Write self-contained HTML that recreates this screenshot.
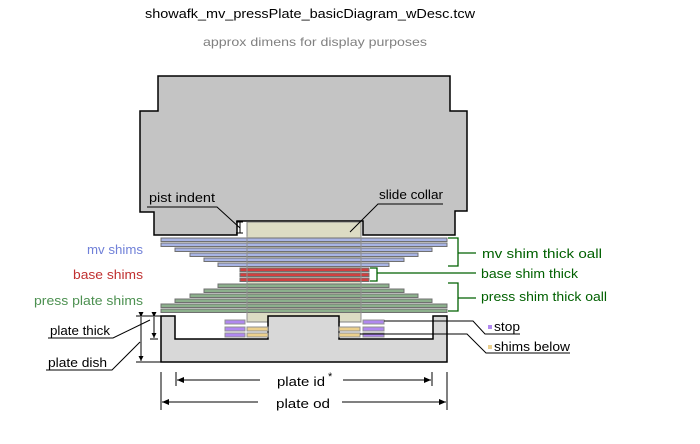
<!DOCTYPE html>
<html><head><meta charset="utf-8"><style>
html,body{margin:0;padding:0;background:#fff;}
svg{display:block;font-family:"Liberation Sans","DejaVu Sans",sans-serif;}
</style></head><body>
<svg width="700" height="444" viewBox="0 0 700 444" xmlns="http://www.w3.org/2000/svg">
<defs>
<marker id="ar" markerWidth="8" markerHeight="6" refX="7" refY="3" orient="auto" markerUnits="userSpaceOnUse"><path d="M0,0 L7,3 L0,6z" fill="#000"/></marker>
<marker id="as" markerWidth="6" markerHeight="5" refX="5" refY="2.5" orient="auto" markerUnits="userSpaceOnUse"><path d="M0,0 L5,2.5 L0,5z" fill="#000"/></marker>
</defs>
<text x="145" y="18" font-size="12.5" fill="#000" textLength="330" lengthAdjust="spacingAndGlyphs">showafk_mv_pressPlate_basicDiagram_wDesc.tcw</text>
<text x="203" y="46" font-size="12" fill="#808080" textLength="224" lengthAdjust="spacingAndGlyphs">approx dimens for display purposes</text>

<path d="M158,76 H450 V111 H467 V211 H455 V235 H363 V221 H237 V235 H154 V212 H140 V111 H158 Z" fill="#c4c4c4" stroke="#000" stroke-width="1.5"/>
<rect x="247" y="222" width="114" height="100" fill="#dcdcc4" stroke="#808080" stroke-width="1"/>

<g fill="#a8b4e4" stroke="#707070" stroke-width="1">
<rect x="161" y="238" width="286" height="3.5"/>
<rect x="161" y="243" width="286" height="3.5"/>
<rect x="175" y="248" width="257" height="3.5"/>
<rect x="190" y="253" width="228" height="3.5"/>
<rect x="204" y="258" width="200" height="3.5"/>
<rect x="218" y="263" width="171" height="3.5"/>
</g>
<g fill="#d04040" stroke="#707070" stroke-width="1">
<rect x="240" y="268" width="129" height="3.5"/>
<rect x="240" y="273" width="129" height="3.5"/>
<rect x="240" y="278" width="129" height="3.5"/>
</g>
<g fill="#8cb08c" stroke="#707070" stroke-width="1">
<rect x="218" y="284" width="171" height="3.5"/>
<rect x="204" y="289" width="200" height="3.5"/>
<rect x="190" y="294" width="228" height="3.5"/>
<rect x="175" y="299" width="257" height="3.5"/>
<rect x="161" y="304" width="286" height="3.5"/>
<rect x="161" y="309" width="286" height="3.5"/>
</g>
<line x1="247" y1="236" x2="247" y2="322" stroke="#909090"/>
<line x1="361" y1="236" x2="361" y2="322" stroke="#909090"/>

<path d="M161,316 H175 V339 H268 V316 H339 V339 H433 V316 H447 V362 H161 Z" fill="#d8d8d8" stroke="#000" stroke-width="1.5"/>

<g stroke="#909090" stroke-width="1">
<rect x="225" y="320" width="20" height="4" fill="#b088f0"/>
<rect x="225" y="327" width="20" height="4" fill="#b088f0"/>
<rect x="225" y="333" width="20" height="4" fill="#b088f0"/>
<rect x="247" y="327" width="21" height="4" fill="#ecd08c"/>
<rect x="247" y="333" width="21" height="4" fill="#ecd08c"/>
<rect x="339" y="327" width="21" height="4" fill="#ecd08c"/>
<rect x="339" y="333" width="21" height="4" fill="#ecd08c"/>
<rect x="363" y="320" width="21" height="4" fill="#b088f0"/>
<rect x="363" y="327" width="21" height="4" fill="#b088f0"/>
<rect x="363" y="333" width="21" height="4" fill="#b088f0"/>
</g>

<text x="87" y="254" font-size="12.5" fill="#7080d8" textLength="56" lengthAdjust="spacingAndGlyphs">mv shims</text>
<text x="73" y="279" font-size="12.5" fill="#c03030" textLength="70" lengthAdjust="spacingAndGlyphs">base shims</text>
<text x="34" y="305" font-size="12.5" fill="#4c9050" textLength="109" lengthAdjust="spacingAndGlyphs">press plate shims</text>

<g stroke="#006000" stroke-width="1.3" fill="none">
<path d="M448,238 H458 V266 H448 M458,253 H476"/>
<path d="M370,268 H377 V281 H370 M377,273 H476"/>
<path d="M448,283 H458 V311 H448 M458,298 H476"/>
</g>
<g font-size="12.5" fill="#006000">
<text x="482" y="258" textLength="120" lengthAdjust="spacingAndGlyphs">mv shim thick oall</text>
<text x="481" y="278" textLength="97" lengthAdjust="spacingAndGlyphs">base shim thick</text>
<text x="481" y="301" textLength="126" lengthAdjust="spacingAndGlyphs">press shim thick oall</text>
</g>

<text x="149" y="202" font-size="12.5" textLength="66" lengthAdjust="spacingAndGlyphs">pist indent</text>
<path d="M147,207 H217 L240,228" stroke="#000" fill="none"/>
<path d="M236,222 H243 M240,222 V233 M236,233 H243" stroke="#000" fill="none"/>
<text x="379" y="199" font-size="12.5" textLength="64" lengthAdjust="spacingAndGlyphs">slide collar</text>
<path d="M443,204 H378 L350,232" stroke="#000" fill="none"/>

<path d="M384,321 H473 L485,334 H520" stroke="#000" fill="none"/>
<path d="M360,334 H467 L486,353 H570" stroke="#000" fill="none"/>
<rect x="488" y="325" width="4" height="4" fill="#b088f0"/>
<text x="494" y="331" font-size="12.5" textLength="26" lengthAdjust="spacingAndGlyphs">stop</text>
<rect x="488" y="345" width="4" height="4" fill="#ecd08c"/>
<text x="494" y="351" font-size="12.5" textLength="76" lengthAdjust="spacingAndGlyphs">shims below</text>

<g stroke="#000" fill="none">
<line x1="136" y1="316" x2="161" y2="316"/>
<line x1="136" y1="362" x2="161" y2="362"/>
<line x1="150" y1="339" x2="158" y2="339"/>
<line x1="141" y1="317" x2="141" y2="361" marker-start="url(#as)" marker-end="url(#as)"/>
<line x1="154" y1="317" x2="154" y2="338" marker-start="url(#as)" marker-end="url(#as)"/>
<path d="M48,338 H113 L150,320"/>
<path d="M46,370 H112 L140,342"/>
</g>
<text x="50" y="335" font-size="12.5" textLength="60" lengthAdjust="spacingAndGlyphs">plate thick</text>
<text x="48" y="367" font-size="12.5" textLength="59" lengthAdjust="spacingAndGlyphs">plate dish</text>

<g stroke="#000" fill="none">
<line x1="176" y1="372" x2="176" y2="386"/>
<line x1="432" y1="372" x2="432" y2="386"/>
<line x1="161" y1="372" x2="161" y2="410"/>
<line x1="447" y1="372" x2="447" y2="410"/>
<line x1="260" y1="380" x2="177" y2="380" marker-end="url(#ar)"/>
<line x1="343" y1="380" x2="431" y2="380" marker-end="url(#ar)"/>
<line x1="258" y1="402" x2="162" y2="402" marker-end="url(#ar)"/>
<line x1="342" y1="402" x2="446" y2="402" marker-end="url(#ar)"/>
</g>
<text x="277" y="386" font-size="13" textLength="48" lengthAdjust="spacingAndGlyphs">plate id</text>
<text x="328" y="380" font-size="11">*</text>
<text x="276" y="408" font-size="13" textLength="54" lengthAdjust="spacingAndGlyphs">plate od</text>
</svg>
</body></html>
